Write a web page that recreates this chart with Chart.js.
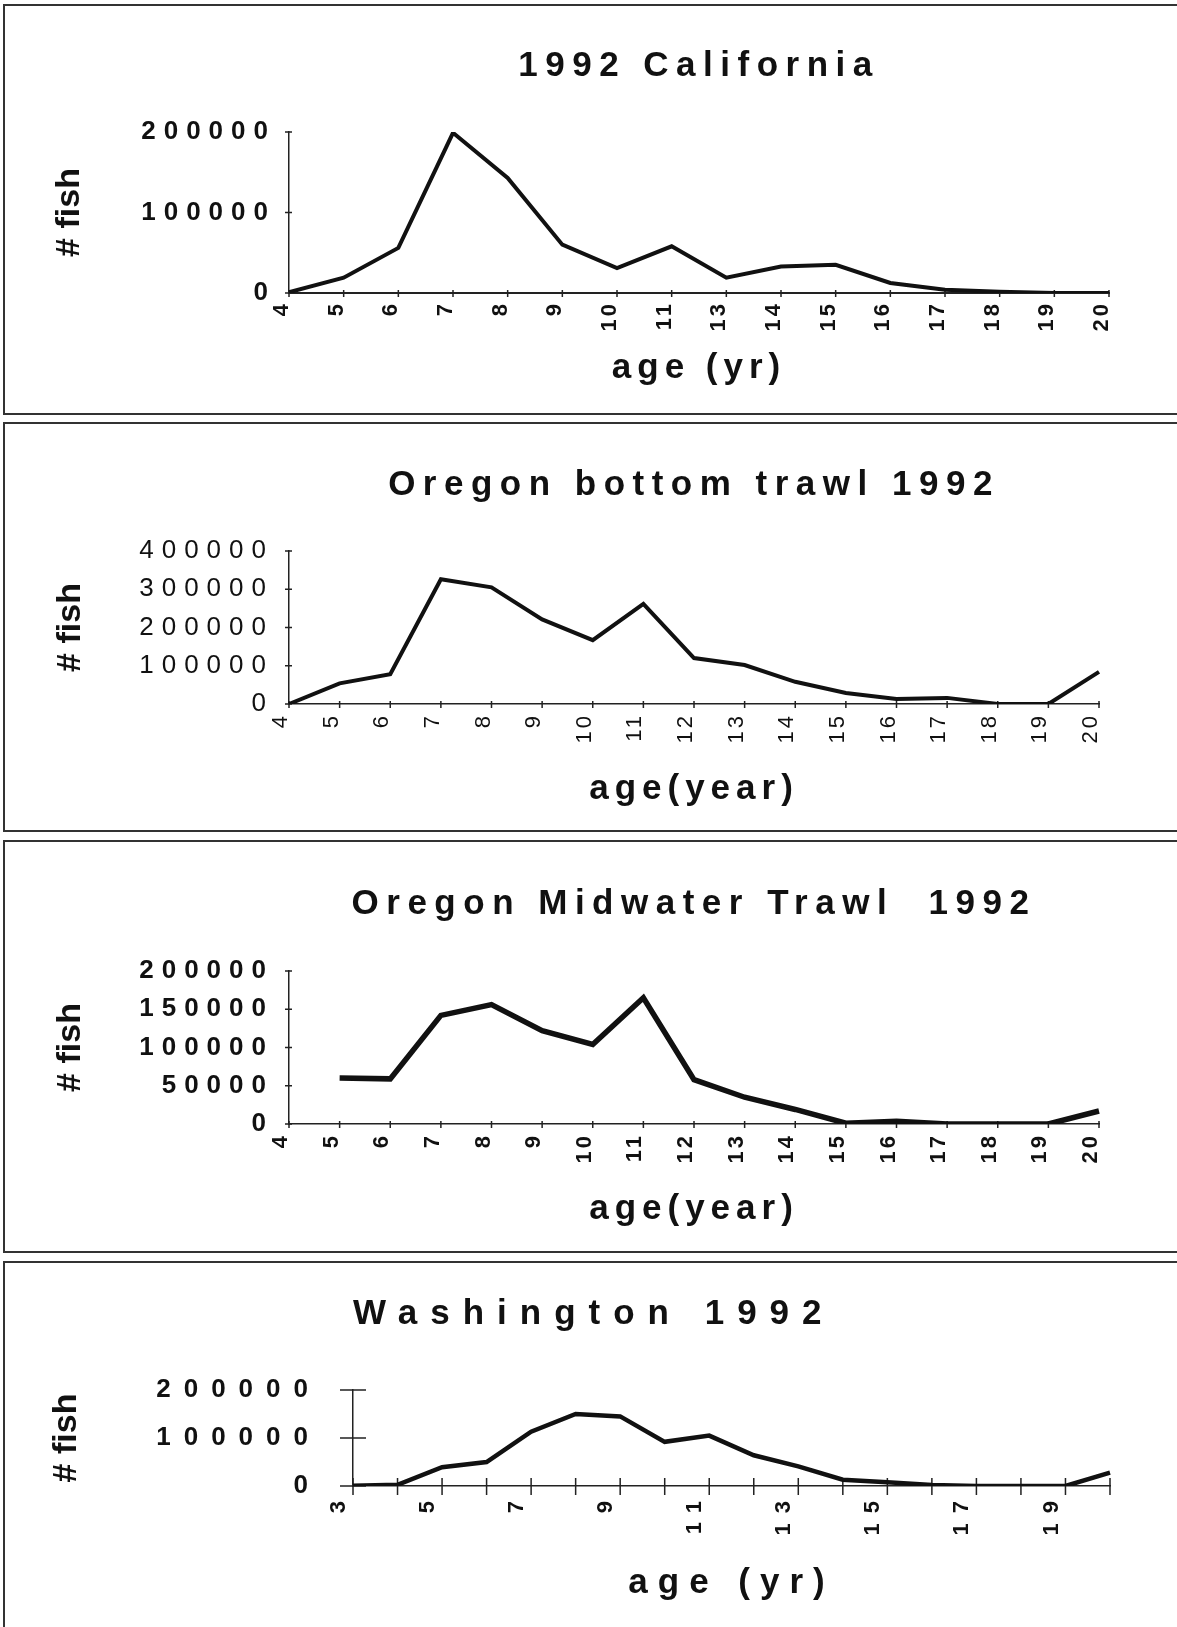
<!DOCTYPE html>
<html>
<head>
<meta charset="utf-8">
<title>1992 age composition</title>
<script src="https://cdn.jsdelivr.net/npm/chart.js@4.4.1/dist/chart.umd.min.js"></script>
<style>
    body{ margin:0; background:#fff; width:1177px; height:1627px; overflow:hidden; position:relative; }
    .panel{ position:absolute; left:3px; width:1200px; border:2px solid #333; border-right:none; box-sizing:border-box; }
    canvas{ position:absolute; left:0; }
</style>
</head>
<body>
<div class="panel" style="top:4px;height:411px"></div>
<div class="panel" style="top:422px;height:410px"></div>
<div class="panel" style="top:840px;height:413px"></div>
<div class="panel" style="top:1261px;height:500px"></div>

<canvas id="california_canvas" width="1177" height="405" style="top:5px"></canvas>
<canvas id="bottom_trawl_canvas" width="1177" height="405" style="top:423px"></canvas>
<canvas id="midwater_canvas" width="1177" height="408" style="top:841px"></canvas>
<canvas id="washington_canvas" width="1177" height="365" style="top:1262px"></canvas>

<script>
// values
const california_ages = ["4", "5", "6", "7", "8", "9", "10", "11", "13", "14", "15", "16", "17", "18", "19", "20"];
const california_fish = [1000, 19000, 56000, 199000, 143000, 60000, 31000, 58000, 19000, 33000, 35000, 12500, 4000, 1500, 0, 0];
const california_y_ticks = [0, 100000, 200000];

const bottom_trawl_ages = ["4", "5", "6", "7", "8", "9", "10", "11", "12", "13", "14", "15", "16", "17", "18", "19", "20"];
const bottom_trawl_fish = [0, 54000, 78000, 326000, 305000, 221000, 167000, 262000, 120000, 102000, 58000, 29000, 13000, 16000, 0, 0, 84000];
const bottom_trawl_y_ticks = [0, 100000, 200000, 300000, 400000];

const midwater_ages = ["4", "5", "6", "7", "8", "9", "10", "11", "12", "13", "14", "15", "16", "17", "18", "19", "20"];
const midwater_fish = [null, 60000, 59000, 142000, 156000, 122000, 104000, 165000, 58000, 35000, 19000, 1000, 3500, 0, 0, 0, 17000];
const midwater_y_ticks = [0, 50000, 100000, 150000, 200000];

const washington_ages = ["3", "4", "5", "6", "7", "8", "9", "10", "11", "12", "13", "14", "15", "16", "17", "18", "19", "20"];
const washington_fish = [500, 2500, 39000, 50000, 113000, 150000, 145000, 92000, 105000, 64000, 41000, 13000, 8000, 2000, 0, 0, 0, 28000];
const washington_y_ticks = [0, 100000, 200000];
const washington_x_tick_labels = ["3", "5", "7", "9", "11", "13", "15", "17", "19"];

Chart.defaults.font.family = "'Liberation Sans', Arial, sans-serif";

const TITLE_SIZE = 35;
const AXIS_TITLE_SIZE = 35;
const FISH_SIZE = 34;

function set_spacing(target, method, spacing){
    let draw = target[method];
    target[method] = function(...args){
        let old = this.ctx.letterSpacing;
        this.ctx.letterSpacing = spacing;
        draw.apply(this, args);
        this.ctx.letterSpacing = old;
    };
}

// the old printout spreads its letters out, by a different amount per text
const spacing_plugin = {
    id: "spacing",
    beforeDraw(chart, args, opts){
        chart.ctx.letterSpacing = opts.y_ticks;
        if(!chart.spaced_text){
            set_spacing(chart.titleBlock, "draw", opts.title);
            set_spacing(chart.scales.x, "drawLabels", opts.x_ticks);
            set_spacing(chart.scales.x, "drawTitle", opts.x_title);
            set_spacing(chart.scales.y, "drawTitle", opts.y_title);
            chart.spaced_text = true;
        }
    },
    afterDraw(chart){
        chart.ctx.letterSpacing = "0px";
    }
};

// tick marks that cross the axis line
const cross_ticks_plugin = {
    id: "cross_ticks",
    beforeDatasetsDraw(chart, args, opts){
        let ctx = chart.ctx;
        let x_scale = chart.scales.x;
        let y_scale = chart.scales.y;
        ctx.save();
        ctx.strokeStyle = "#222";
        ctx.lineWidth = 1.5;
        ctx.beginPath();
        x_scale.ticks.forEach((tick, i)=>{
            let px = x_scale.getPixelForTick(i);
            ctx.moveTo(px, x_scale.top - opts.x_in);
            ctx.lineTo(px, x_scale.top + opts.x_out);
        });
        y_scale.ticks.forEach((tick, i)=>{
            let py = y_scale.getPixelForTick(i);
            ctx.moveTo(y_scale.right - opts.y_out, py);
            ctx.lineTo(y_scale.right + opts.y_in, py);
        });
        ctx.stroke();
        ctx.restore();
    }
};

function new_line_chart(canvas, ages, fish, y_ticks, x_tick_labels, look){
    let title_line = TITLE_SIZE * 1.2;
    let title_top = look.title_y - title_line / 2;
    let x_height = canvas.height - look.area.bottom;

    return new Chart(canvas, {
        type: "line",
        data: {
            labels: ages,
            datasets: [{
                data: fish,
                borderColor: "#111",
                borderWidth: look.line_width,
                pointRadius: 0,
                tension: 0,
                fill: false
            }]
        },
        options: {
            responsive: false,
            animation: false,
            events: [],
            layout: {
                padding: {left: 0, top: 0, bottom: 0, right: canvas.width - look.area.right}
            },
            plugins: {
                legend: {display: false},
                tooltip: {enabled: false},
                title: {
                    display: true,
                    text: look.title,
                    fullSize: false,
                    align: look.title_align,
                    color: "#111",
                    font: {size: TITLE_SIZE, weight: "bold"},
                    padding: {top: title_top, bottom: look.area.top - title_top - title_line}
                },
                spacing: look.spacing,
                cross_ticks: look.cross
            },
            scales: {
                x: {
                    grid: {drawOnChartArea: false, drawTicks: false},
                    border: {display: true, color: "#222", width: look.x_border},
                    ticks: {
                        autoSkip: false,
                        minRotation: 90,
                        maxRotation: 90,
                        padding: look.x_tick_padding,
                        labelOffset: look.label_offset,
                        color: "#111",
                        font: {size: 22, weight: look.tick_weight},
                        callback: function(value){
                            let label = this.getLabelForValue(value);
                            return x_tick_labels.includes(label) ? label : "";
                        }
                    },
                    title: {
                        display: true,
                        text: look.x_title,
                        color: "#111",
                        font: {size: AXIS_TITLE_SIZE, weight: "bold"},
                        padding: {top: 0, bottom: canvas.height - look.x_title_y - AXIS_TITLE_SIZE * 0.6}
                    },
                    afterFit: (scale)=>{ scale.height = x_height; }
                },
                y: {
                    min: 0,
                    max: y_ticks[y_ticks.length - 1],
                    afterBuildTicks: (axis)=>{ axis.ticks = y_ticks.map(v => ({value: v})); },
                    grid: {drawOnChartArea: false, drawTicks: false},
                    border: {display: true, color: "#222", width: 1.5},
                    ticks: {
                        padding: look.y_tick_padding,
                        color: "#111",
                        font: {size: 26, weight: look.tick_weight},
                        callback: (value)=> String(value)
                    },
                    title: {
                        display: true,
                        text: "# fish",
                        color: "#111",
                        font: {size: FISH_SIZE, weight: "bold"},
                        padding: {top: look.y_title_x - FISH_SIZE * 0.6, bottom: 0}
                    },
                    afterFit: (scale)=>{ scale.width = look.area.left; }
                }
            }
        },
        plugins: [spacing_plugin, cross_ticks_plugin]
    });
}

document.addEventListener("DOMContentLoaded", ()=>{
    let narrow_text = {title: "7.5px", x_ticks: "3px", x_title: "6px", y_title: "0px", y_ticks: "8px"};

    new_line_chart(document.getElementById("california_canvas"),
        california_ages, california_fish, california_y_ticks, california_ages, {
        title: "1992 California", title_align: "center", x_title: "age (yr)",
        area: {left: 289, right: 1109, top: 127, bottom: 288},
        title_y: 61, x_title_y: 363, y_title_x: 70,
        line_width: 4, x_border: 2, tick_weight: "bold", spacing: narrow_text,
        y_tick_padding: 13, x_tick_padding: 8, label_offset: -7,
        cross: {x_in: 3, x_out: 4, y_in: 3, y_out: 4}
    });

    new_line_chart(document.getElementById("bottom_trawl_canvas"),
        bottom_trawl_ages, bottom_trawl_fish, bottom_trawl_y_ticks, bottom_trawl_ages, {
        title: "Oregon bottom trawl 1992", title_align: "center", x_title: "age(year)",
        area: {left: 289, right: 1099, top: 128, bottom: 281},
        title_y: 62, x_title_y: 366, y_title_x: 71,
        line_width: 4, x_border: 1.5, tick_weight: "normal", spacing: narrow_text,
        y_tick_padding: 15, x_tick_padding: 9, label_offset: -8,
        cross: {x_in: 3, x_out: 4, y_in: 3, y_out: 4}
    });

    new_line_chart(document.getElementById("midwater_canvas"),
        midwater_ages, midwater_fish, midwater_y_ticks, midwater_ages, {
        title: "Oregon Midwater Trawl  1992", title_align: "center", x_title: "age(year)",
        area: {left: 289, right: 1099, top: 130, bottom: 283},
        title_y: 63, x_title_y: 368, y_title_x: 71,
        line_width: 5.5, x_border: 1.5, tick_weight: "bold", spacing: narrow_text,
        y_tick_padding: 15, x_tick_padding: 9, label_offset: -8,
        cross: {x_in: 3, x_out: 4, y_in: 3, y_out: 4}
    });

    new_line_chart(document.getElementById("washington_canvas"),
        washington_ages, washington_fish, washington_y_ticks, washington_x_tick_labels, {
        title: "Washington 1992", title_align: "start", x_title: "age (yr)",
        area: {left: 353, right: 1110, top: 128, bottom: 224},
        title_y: 52, x_title_y: 321, y_title_x: 67,
        line_width: 4.5, x_border: 1.5, tick_weight: "bold",
        spacing: {title: "13px", x_ticks: "10px", x_title: "10px", y_title: "0px", y_ticks: "13px"},
        y_tick_padding: 32, x_tick_padding: 5, label_offset: -14,
        cross: {x_in: 8, x_out: 9, y_in: 13, y_out: 13}
    });
});
</script>
</body>
</html>
